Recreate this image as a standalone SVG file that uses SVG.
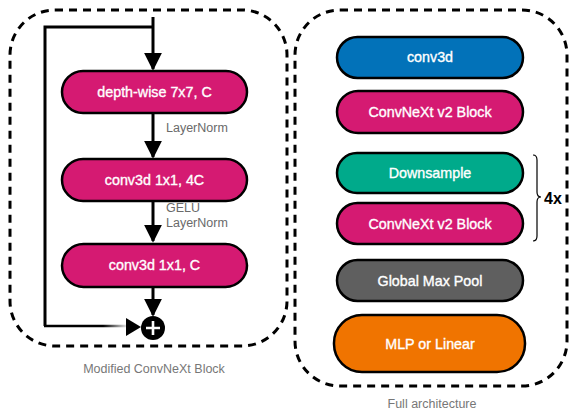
<svg xmlns="http://www.w3.org/2000/svg" width="570" height="412" viewBox="0 0 570 412">
  <defs>
    <style>
      .frame { fill: none; stroke: #000; stroke-width: 3; stroke-dasharray: 8 6; }
      .pill { stroke: #000; stroke-width: 2.5; }
      .pink { fill: #D51A72; }
      .blue { fill: #0272B9; }
      .green { fill: #00AA8B; }
      .grey { fill: #5F5F5F; }
      .orange { fill: #F07400; }
      .lbl { font-family: "Liberation Sans", Arial, sans-serif; font-size: 14.3px; fill: #fff; stroke: #fff; stroke-width: 0.35; text-anchor: middle; }
      .note { font-family: "Liberation Sans", Arial, sans-serif; font-size: 12.5px; fill: #6a6a6a; }
      .cap { font-family: "Liberation Sans", Arial, sans-serif; font-size: 12.5px; fill: #777; text-anchor: middle; }
      .wire { fill: none; stroke: #000; stroke-width: 3; }
    </style>
    <marker id="head" viewBox="0 0 10 10" refX="9" refY="5" markerWidth="6" markerHeight="6" markerUnits="strokeWidth" orient="auto">
      <path d="M0,0 L10,5 L0,10 Z" fill="#000"/>
    </marker>
    <linearGradient id="fade" gradientUnits="userSpaceOnUse" x1="45" y1="0" x2="128" y2="0">
      <stop offset="0" stop-color="#000"/>
      <stop offset="0.7" stop-color="#000"/>
      <stop offset="1" stop-color="#000" stop-opacity="0.05"/>
    </linearGradient>
  </defs>

  <!-- dashed frames -->
  <rect class="frame" x="10" y="10" width="277" height="336" rx="45"/>
  <rect class="frame" x="295" y="10" width="272" height="376" rx="45"/>

  <!-- connectors of the block -->
  <g id="connectors">
    <path class="wire" d="M153,27 H45 V326" stroke-width="2.5"/>
    <path d="M44,326 H128" fill="none" stroke="url(#fade)" stroke-width="2.5"/>
    <path d="M126,318 L141,327 L126,336 Z" fill="#000"/>
    <line class="wire" x1="153" y1="17" x2="153" y2="69" marker-end="url(#head)"/>
    <line class="wire" x1="153" y1="114" x2="153" y2="157" marker-end="url(#head)"/>
    <line class="wire" x1="153" y1="202" x2="153" y2="241" marker-end="url(#head)"/>
    <line class="wire" x1="153" y1="288" x2="153" y2="315" marker-end="url(#head)"/>
    <path d="M533,155 Q537,155 537,160 V192 Q537,197 541,197 Q537,197 537,202 V236 Q537,241 533,241" fill="none" stroke="#000" stroke-width="1.2"/>
  </g>

  <!-- modified ConvNeXt block -->
  <g id="dw">
    <rect class="pill pink" x="62" y="71" width="185" height="42" rx="21"/>
    <text class="lbl" x="154.5" y="97">depth-wise 7x7, C</text>
  </g>
  <text class="note" x="166" y="132">LayerNorm</text>
  <g id="pw1">
    <rect class="pill pink" x="62" y="159" width="185" height="42" rx="21"/>
    <text class="lbl" x="154.5" y="185">conv3d 1x1, 4C</text>
  </g>
  <text class="note" x="166" y="212">GELU</text>
  <text class="note" x="166" y="227">LayerNorm</text>
  <g id="pw2">
    <rect class="pill pink" x="62" y="244" width="185" height="43" rx="21.5"/>
    <text class="lbl" x="154.5" y="270">conv3d 1x1, C</text>
  </g>
  <g id="add">
    <circle cx="153" cy="328" r="12" fill="#000"/>
    <path d="M153,321 V335 M146,328 H160" stroke="#fff" stroke-width="2.6"/>
  </g>
  <text class="cap" x="154" y="373">Modified ConvNeXt Block</text>

  <!-- full architecture -->
  <g id="stem">
    <rect class="pill blue" x="337" y="37" width="186" height="41" rx="20.5"/>
    <text class="lbl" x="430" y="62">conv3d</text>
  </g>
  <g id="block0">
    <rect class="pill pink" x="337" y="91" width="186" height="42" rx="21"/>
    <text class="lbl" x="430" y="117">ConvNeXt v2 Block</text>
  </g>
  <g id="down">
    <rect class="pill green" x="337" y="153" width="186" height="40" rx="20"/>
    <text class="lbl" x="430" y="178">Downsample</text>
  </g>
  <g id="block">
    <rect class="pill pink" x="337" y="203" width="186" height="41" rx="20.5"/>
    <text class="lbl" x="430" y="229">ConvNeXt v2 Block</text>
  </g>
  <text x="544" y="204" font-family="Liberation Sans, Arial, sans-serif" font-size="16" font-weight="bold" fill="#000">4x</text>
  <g id="pool">
    <rect class="pill grey" x="337" y="260" width="186" height="41" rx="20.5"/>
    <text class="lbl" x="430" y="286">Global Max Pool</text>
  </g>
  <g id="head-mlp">
    <rect class="pill orange" x="334" y="315" width="191" height="57" rx="28"/>
    <text class="lbl" x="430" y="349">MLP or Linear</text>
  </g>
  <text class="cap" x="432" y="408">Full architecture</text>
</svg>
